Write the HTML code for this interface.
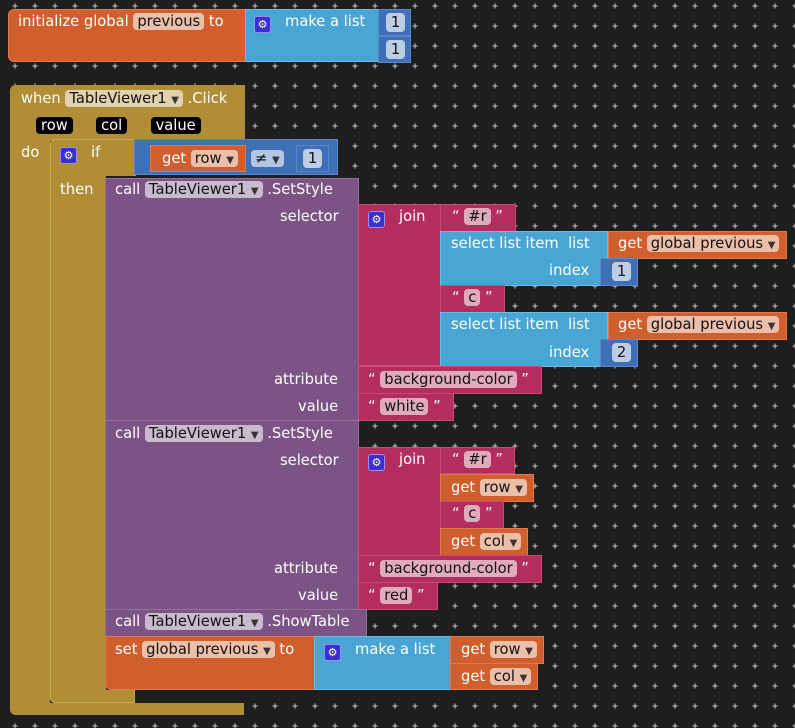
<!DOCTYPE html>
<html><head><meta charset="utf-8"><style>
body{margin:0;width:795px;height:728px;background:#1e1e1e;overflow:hidden;position:relative;font-family:"DejaVu Sans","Liberation Sans",sans-serif;font-size:14.7px;color:#fff}
svg.bg{position:absolute;left:0;top:0}
.b{position:absolute;box-sizing:border-box}
.o{background:#d05f2d;border:1px solid #e07b4e}
.lb{background:#49a6d4;border:1px solid #6cbbe2}
.m{background:#3f6fb5;border:1px solid #5a87c8}
.g{background:#b18e35}
.pu{background:#7c5385;border:1px solid #94709c}
.pk{background:#b32d5e;border:1px solid #c74c78}
.t{position:absolute;white-space:nowrap;line-height:20px;margin-top:-1px}
.p{background:rgba(255,255,255,.6);color:#111;border-radius:4px;padding:0 4px}
.k{background:#000;color:#fff;border-radius:4px;padding:0 5px}
.n{position:absolute;background:rgba(255,255,255,.65);color:#111;border-radius:4px;width:19px;text-align:center;line-height:19px}
.gear{display:inline-block;width:17px;height:17px;background:#3a2fd0;border:1px solid #9a8cff;border-radius:3px;font-size:11px;line-height:15px;text-align:center;vertical-align:-2px;box-sizing:border-box}
.a{font-size:10px;opacity:.8}
</style></head><body>
<svg class="bg" width="795" height="728"><defs><pattern id="pp" width="20" height="20" patternUnits="userSpaceOnUse" x="0" y="0"><path d="M12.5 6h5M15 3.5v5" stroke="#ccc" stroke-width="1"/></pattern></defs><rect width="795" height="728" fill="url(#pp)"/></svg>

<!-- initialize global -->
<div class="b o" style="left:8px;top:9px;width:238px;height:53px;border-radius:6px 0 0 6px"></div>
<div class="t" style="left:18px;top:13px">initialize global <span class="p">previous</span> to</div>
<div class="b lb" style="left:245px;top:9px;width:134px;height:53px"></div>
<div class="t" style="left:254px;top:13px"><span class="gear">⚙</span>&nbsp;&nbsp; make a list</div>
<div class="b m" style="left:378px;top:9px;width:33px;height:27px"></div><div class="n" style="left:386px;top:13px">1</div>
<div class="b m" style="left:378px;top:36px;width:33px;height:27px"></div><div class="n" style="left:386px;top:40px">1</div>

<!-- event block -->
<div class="b g" style="left:10px;top:85px;width:235px;height:56px;border-radius:6px 0 0 0"></div>
<div class="b g" style="left:10px;top:85px;width:40px;height:630px;border-radius:6px 0 0 6px"></div>
<div class="b g" style="left:10px;top:703px;width:234px;height:12px;border-radius:0 0 0 6px"></div>
<div class="t" style="left:21px;top:90px">when <span class="p">TableViewer1 <span class="a">▼</span></span> .Click</div>
<div class="t" style="left:36px;top:117px"><span class="k">row</span>&nbsp;&nbsp;&nbsp;&nbsp;&nbsp;<span class="k">col</span>&nbsp;&nbsp;&nbsp;&nbsp;&nbsp;<span class="k">value</span></div>
<div class="t" style="left:21px;top:144px">do</div>

<!-- if block -->
<div class="b g" style="left:50px;top:139px;width:86px;height:37px;border:1px solid #c7a855;border-bottom:none;border-radius:5px 0 0 0"></div>
<div class="b g" style="left:50px;top:139px;width:56px;height:564px;border:1px solid #c7a855;border-right:none;border-radius:5px 0 0 5px"></div>
<div class="b g" style="left:50px;top:690px;width:85px;height:13px;border:1px solid #c7a855;border-top:none;border-radius:0 0 0 5px"></div>
<div class="t" style="left:60px;top:144px"><span class="gear">⚙</span>&nbsp;&nbsp; if</div>
<div class="t" style="left:60px;top:181px">then</div>

<!-- compare -->
<div class="b m" style="left:134px;top:139px;width:204px;height:36px"></div>
<div class="b o" style="left:150px;top:145px;width:96px;height:27px"></div>
<div class="t" style="left:162px;top:150px">get <span class="p">row <span class="a">▼</span></span></div>
<div class="t" style="left:251px;top:150px"><span class="p">≠ <span class="a">▼</span></span></div>
<div class="b m" style="left:296px;top:145px;width:33px;height:27px"></div><div class="n" style="left:303px;top:149px">1</div>

<!-- SetStyle 1 -->
<div class="b pu" style="left:105px;top:178px;width:254px;height:243px"></div>
<div class="t" style="left:115px;top:181px">call <span class="p">TableViewer1 <span class="a">▼</span></span> .SetStyle</div>
<div class="t" style="left:280px;top:208px">selector</div>
<div class="t" style="left:274px;top:371px">attribute</div>
<div class="t" style="left:298px;top:398px">value</div>
<div class="b pk" style="left:358px;top:204px;width:83px;height:162px"></div>
<div class="t" style="left:368px;top:208px"><span class="gear">⚙</span>&nbsp;&nbsp; join</div>
<div class="b pk" style="left:440px;top:204px;width:76px;height:28px"></div>
<div class="t" style="left:452px;top:208px">“ <span class="p">#r</span> ”</div>
<div class="b lb" style="left:440px;top:231px;width:168px;height:55px"></div>
<div class="t" style="left:451px;top:235px">select list item&nbsp; list</div>
<div class="t" style="left:549px;top:262px">index</div>
<div class="b o" style="left:608px;top:231px;width:179px;height:28px"></div>
<div class="t" style="left:618px;top:235px">get <span class="p">global previous <span class="a">▼</span></span></div>
<div class="b m" style="left:600px;top:258px;width:38px;height:28px"></div><div class="n" style="left:612px;top:262px">1</div>
<div class="b pk" style="left:440px;top:285px;width:65px;height:28px"></div>
<div class="t" style="left:452px;top:289px">“ <span class="p">c</span> ”</div>
<div class="b lb" style="left:440px;top:312px;width:168px;height:55px"></div>
<div class="t" style="left:451px;top:316px">select list item&nbsp; list</div>
<div class="t" style="left:549px;top:344px">index</div>
<div class="b o" style="left:608px;top:312px;width:179px;height:28px"></div>
<div class="t" style="left:618px;top:316px">get <span class="p">global previous <span class="a">▼</span></span></div>
<div class="b m" style="left:600px;top:339px;width:38px;height:28px"></div><div class="n" style="left:612px;top:343px">2</div>
<div class="b pk" style="left:358px;top:366px;width:184px;height:28px"></div>
<div class="t" style="left:368px;top:371px">“ <span class="p">background-color</span> ”</div>
<div class="b pk" style="left:358px;top:393px;width:96px;height:28px"></div>
<div class="t" style="left:368px;top:398px">“ <span class="p">white</span> ”</div>

<!-- SetStyle 2 -->
<div class="b pu" style="left:105px;top:420px;width:254px;height:190px"></div>
<div class="t" style="left:115px;top:425px">call <span class="p">TableViewer1 <span class="a">▼</span></span> .SetStyle</div>
<div class="t" style="left:280px;top:452px">selector</div>
<div class="t" style="left:274px;top:560px">attribute</div>
<div class="t" style="left:298px;top:587px">value</div>
<div class="b pk" style="left:358px;top:447px;width:83px;height:109px"></div>
<div class="t" style="left:368px;top:451px"><span class="gear">⚙</span>&nbsp;&nbsp; join</div>
<div class="b pk" style="left:440px;top:447px;width:75px;height:27px"></div>
<div class="t" style="left:452px;top:451px">“ <span class="p">#r</span> ”</div>
<div class="b o" style="left:440px;top:474px;width:94px;height:28px"></div>
<div class="t" style="left:451px;top:479px">get <span class="p">row <span class="a">▼</span></span></div>
<div class="b pk" style="left:440px;top:501px;width:64px;height:28px"></div>
<div class="t" style="left:452px;top:505px">“ <span class="p">c</span> ”</div>
<div class="b o" style="left:440px;top:528px;width:88px;height:28px"></div>
<div class="t" style="left:451px;top:533px">get <span class="p">col <span class="a">▼</span></span></div>
<div class="b pk" style="left:358px;top:555px;width:184px;height:28px"></div>
<div class="t" style="left:368px;top:560px">“ <span class="p">background-color</span> ”</div>
<div class="b pk" style="left:358px;top:582px;width:80px;height:28px"></div>
<div class="t" style="left:368px;top:587px">“ <span class="p">red</span> ”</div>

<!-- ShowTable -->
<div class="b pu" style="left:105px;top:609px;width:262px;height:28px"></div>
<div class="t" style="left:115px;top:613px">call <span class="p">TableViewer1 <span class="a">▼</span></span> .ShowTable</div>

<!-- set global -->
<div class="b o" style="left:105px;top:636px;width:210px;height:54px;border-radius:0 0 0 6px"></div>
<div class="t" style="left:115px;top:641px">set <span class="p">global previous <span class="a">▼</span></span> to</div>
<div class="b lb" style="left:314px;top:636px;width:137px;height:54px"></div>
<div class="t" style="left:324px;top:641px"><span class="gear">⚙</span>&nbsp;&nbsp; make a list</div>
<div class="b o" style="left:450px;top:636px;width:94px;height:28px"></div>
<div class="t" style="left:461px;top:641px">get <span class="p">row <span class="a">▼</span></span></div>
<div class="b o" style="left:450px;top:663px;width:88px;height:27px"></div>
<div class="t" style="left:461px;top:668px">get <span class="p">col <span class="a">▼</span></span></div>
</body></html>
